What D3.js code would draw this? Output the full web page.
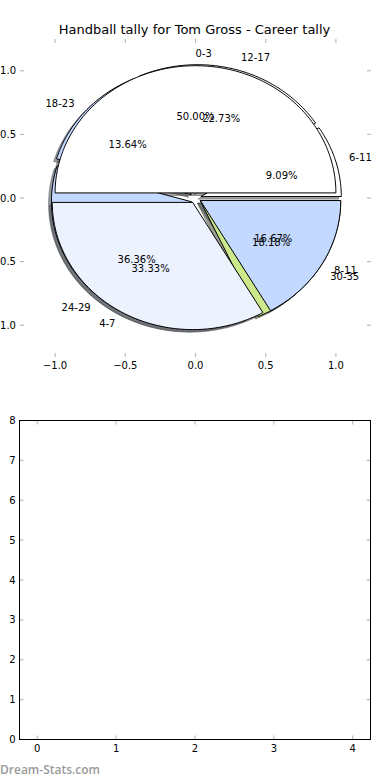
<!DOCTYPE html>
<html><head><meta charset="utf-8">
<script src="https://cdn.jsdelivr.net/npm/d3@7"></script>
<style>body{margin:0;background:#fff}svg{display:block}text{font-family:"DejaVu Sans",sans-serif;fill:#000}</style>
</head><body><svg id="c" width="390" height="780"></svg>
<script>
const title = "Handball tally for Tom Gross - Career tally";
const labelsA = ["0-3", "4-7", "8-11"];
const valuesA = [3, 2, 1];
const labelsB = ["6-11", "12-17", "18-23", "24-29", "30-35"];
const valuesB = [2, 5, 3, 8, 4];
const pieTicks = [-1, -0.5, 0, 0.5, 1];
const barXTicks = [0, 1, 2, 3, 4];
const barYTicks = [0, 1, 2, 3, 4, 5, 6, 7, 8];
const watermark = "Dream-Stats.com";

const colorsA = ["#ffffff", "#edf2ff", "#c4d9ff"];
const colorsB = ["#ffffff", "#ffffff", "#c4d9ff", "#c4d9ff", "#cbe88a"];
const explodeA = [0.04, 0.04, 0.04];
const explodeB = [0.04, 0.05, 0.04, 0.04, 0.04];

const svg = d3.select("#c");
const fmtTick = d => d3.format(".1f")(d).replace("-", "\u2212");

// ---------- pie axes ----------
const P = {x0: 20, x1: 371, y0: 39, y1: 357};
const px = d3.scaleLinear().domain([-1.25, 1.25]).range([P.x0, P.x1]);
const py = d3.scaleLinear().domain([-1.25, 1.25]).range([P.y1, P.y0]);
const line = d3.line().x(d => px(d[0])).y(d => py(d[1]));
const pie = d3.pie().sort(null).value(d => d).startAngle(0).endAngle(2 * Math.PI);

function wedges(values, labels, colors, explode) {
  return pie(values).map((a, i) => {
    const tm = (a.startAngle + a.endAngle) / 2;
    const cx = explode[i] * Math.cos(tm), cy = explode[i] * Math.sin(tm);
    const n = Math.max(2, Math.ceil((a.endAngle - a.startAngle) / (Math.PI / 180)));
    const pts = [[cx, cy]].concat(d3.range(n + 1).map(k => {
      const t = a.startAngle + (a.endAngle - a.startAngle) * k / n;
      return [cx + Math.cos(t), cy + Math.sin(t)];
    }));
    pts.push([cx, cy]);
    return {pts, tm, cx, cy, color: colors[i], label: labels[i],
      pct: (100 * a.value / d3.sum(values)).toFixed(2) + "%"};
  });
}
const wB = wedges(valuesB, labelsB, colorsB, explodeB);
const wA = wedges(valuesA, labelsA, colorsA, explodeA);
const all = wB.concat(wA);

// shadows (below all wedges)
const gS = svg.append("g");
all.forEach(w => {
  const c = d3.color(w.color);
  const sc = d3.rgb(c.r * 0.3, c.g * 0.3, c.b * 0.3);
  gS.append("path").attr("d", line(w.pts.map(p => [p[0] - 0.02, p[1] - 0.02])) + "Z")
    .attr("fill", sc).attr("fill-opacity", 0.5)
    .attr("stroke", sc).attr("stroke-opacity", 0.5).attr("stroke-width", 1)
    .attr("stroke-linejoin", "round");
});
const gW = svg.append("g");
all.forEach(w => {
  gW.append("path").attr("d", line(w.pts) + "Z")
    .attr("fill", w.color).attr("stroke", "#000").attr("stroke-width", 1)
    .attr("stroke-linejoin", "round");
});
const gT = svg.append("g").style("font-size", "10px");
all.forEach(w => {
  const lx = w.cx + 1.1 * Math.cos(w.tm), ly = w.cy + 1.1 * Math.sin(w.tm);
  gT.append("text").attr("x", px(lx)).attr("y", py(ly)).attr("dy", "0.36em")
    .attr("text-anchor", lx > 0 ? "start" : "end").text(w.label);
  const tx = w.cx + 0.6 * Math.cos(w.tm), ty = w.cy + 0.6 * Math.sin(w.tm);
  gT.append("text").attr("x", px(tx)).attr("y", py(ty)).attr("dy", "0.36em")
    .attr("text-anchor", "middle").text(w.pct);
});

// pie axes ticks
const tickCol = "#bbbbbb";
const gA = svg.append("g").attr("stroke", tickCol).attr("stroke-width", 1.2);
pieTicks.forEach(t => {
  gA.append("line").attr("x1", px(t)).attr("x2", px(t)).attr("y1", P.y0).attr("y2", P.y0 + 4);
  gA.append("line").attr("x1", px(t)).attr("x2", px(t)).attr("y1", P.y1).attr("y2", P.y1 - 4);
  gA.append("line").attr("y1", py(t)).attr("y2", py(t)).attr("x1", P.x0).attr("x2", P.x0 + 4);
  gA.append("line").attr("y1", py(t)).attr("y2", py(t)).attr("x1", P.x1).attr("x2", P.x1 - 4);
});
const gL = svg.append("g").style("font-size", "10px");
pieTicks.forEach(t => {
  gL.append("text").attr("x", px(t)).attr("y", P.y1 + 12).attr("text-anchor", "middle").text(fmtTick(t));
  gL.append("text").attr("x", P.x0 - 4).attr("y", py(t)).attr("dy", "0.36em").attr("text-anchor", "end").text(fmtTick(t));
});
svg.append("text").attr("x", (P.x0 + P.x1) / 2 - 1).attr("y", 34).attr("text-anchor", "middle")
  .style("font-size", "13px").text(title);

// ---------- empty bar axes ----------
const B = {x0: 19.5, x1: 370.5, y0: 420.5, y1: 739.5};
const bx = d3.scaleLinear().domain([-0.225, 4.225]).range([B.x0, B.x1]);
const by = d3.scaleLinear().domain([0, 8]).range([B.y1, B.y0]);
const gB = svg.append("g").attr("stroke", tickCol).attr("stroke-width", 1.2);
barXTicks.forEach(t => {
  gB.append("line").attr("x1", bx(t)).attr("x2", bx(t)).attr("y1", B.y0).attr("y2", B.y0 + 4);
  gB.append("line").attr("x1", bx(t)).attr("x2", bx(t)).attr("y1", B.y1).attr("y2", B.y1 - 4);
});
barYTicks.forEach(t => {
  gB.append("line").attr("y1", by(t)).attr("y2", by(t)).attr("x1", B.x0).attr("x2", B.x0 + 4);
  gB.append("line").attr("y1", by(t)).attr("y2", by(t)).attr("x1", B.x1).attr("x2", B.x1 - 4);
});
svg.append("rect").attr("x", B.x0).attr("y", B.y0).attr("width", B.x1 - B.x0).attr("height", B.y1 - B.y0)
  .attr("fill", "none").attr("stroke", "#000").attr("stroke-width", 1);
const gBL = svg.append("g").style("font-size", "10px");
barXTicks.forEach(t => gBL.append("text").attr("x", bx(t)).attr("y", B.y1 + 12).attr("text-anchor", "middle").text(t));
barYTicks.forEach(t => gBL.append("text").attr("x", B.x0 - 4).attr("y", by(t)).attr("dy", "0.36em").attr("text-anchor", "end").text(t));

svg.append("text").attr("x", 0).attr("y", 774).style("font-family", "'Open Sans',sans-serif")
  .style("font-size", "12px").style("font-weight", "600")
  .style("fill", "#9a9a9a").text(watermark);
</script></body></html>
